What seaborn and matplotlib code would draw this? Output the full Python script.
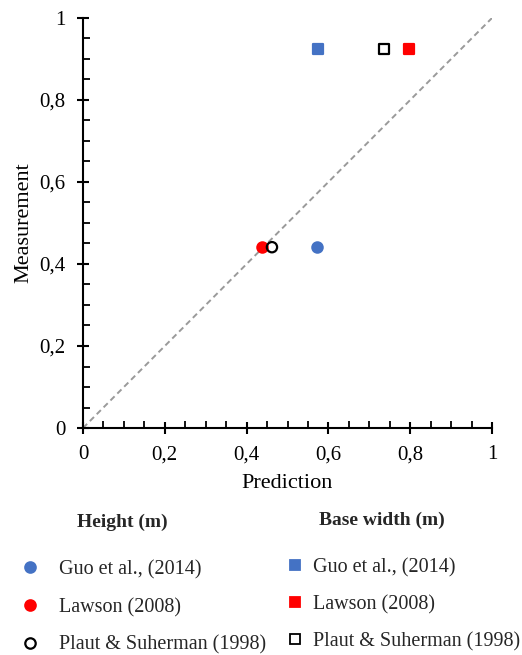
import matplotlib
matplotlib.use("Agg")
import matplotlib.pyplot as plt
import seaborn as sns
import pandas as pd
from matplotlib.ticker import MultipleLocator, FuncFormatter
from matplotlib.lines import Line2D

sources = ["Guo et al., (2014)", "Lawson (2008)", "Plaut & Suherman (1998)"]
height_pred = [0.573, 0.438, 0.462]
height_meas = [0.441, 0.441, 0.441]
base_pred = [0.575, 0.797, 0.736]
base_meas = [0.924, 0.924, 0.924]
colors = ["#4472C4", "#FF0000", "none"]
edges = ["#4472C4", "#FF0000", "black"]

sns.set_theme(style="ticks")
plt.rcParams["font.family"] = ["Liberation Serif", "DejaVu Serif"]

fig = plt.figure(figsize=(5.22, 6.55), dpi=100)
ax = fig.add_axes([83/522, 1-428/655, 409/522, 410/655])

ax.plot([0, 1], [0, 1], ls=(0, (3, 2)), color="#9A9A9A", lw=1.4, zorder=1)

hdf = pd.DataFrame({"pred": height_pred, "meas": height_meas, "src": sources})
bdf = pd.DataFrame({"pred": base_pred, "meas": base_meas, "src": sources})

h_handles = []
b_handles = []
for i, s in enumerate(sources):
    sns.scatterplot(data=hdf[hdf.src == s], x="pred", y="meas", ax=ax, marker="o",
                    s=55, color=colors[i], edgecolor=edges[i], linewidth=1.6, zorder=3)
    sns.scatterplot(data=bdf[bdf.src == s], x="pred", y="meas", ax=ax, marker="s",
                    s=55, color=colors[i], edgecolor=edges[i], linewidth=1.6, zorder=3)
    h_handles.append(Line2D([], [], ls="", marker="o", markersize=7.5,
                            markerfacecolor=colors[i], markeredgecolor=edges[i], markeredgewidth=1.6))
    b_handles.append(Line2D([], [], ls="", marker="s", markersize=7.5,
                            markerfacecolor=colors[i], markeredgecolor=edges[i], markeredgewidth=1.3))

ax.set_xlim(0, 1)
ax.set_ylim(0, 1)
ax.xaxis.set_major_locator(MultipleLocator(0.2))
ax.yaxis.set_major_locator(MultipleLocator(0.2))
ax.xaxis.set_minor_locator(MultipleLocator(0.05))
ax.yaxis.set_minor_locator(MultipleLocator(0.05))
fmt = FuncFormatter(lambda v, p: ("%g" % round(v, 2)).replace(".", ","))
ax.xaxis.set_major_formatter(fmt)
ax.yaxis.set_major_formatter(fmt)
ax.tick_params(which="major", direction="inout", length=9, width=1.5, labelsize=15,
               color="black", labelcolor="black", pad=8)
ax.tick_params(which="minor", direction="in", length=5, width=1.3, color="black")
for sp in ["top", "right"]:
    ax.spines[sp].set_visible(False)
for sp in ["left", "bottom"]:
    ax.spines[sp].set_color("black")
    ax.spines[sp].set_linewidth(1.5)
ax.set_xlabel("Prediction", fontsize=16, color="black", labelpad=7)
ax.set_ylabel("Measurement", fontsize=16, color="black", labelpad=4)

fig.text(122/522, 1-522/655, "Height (m)", ha="center", va="center",
         fontsize=14, fontweight="bold")
fig.text(382/522, 1-520/655, "Base width (m)", ha="center", va="center",
         fontsize=14, fontweight="bold")

fig.legend(h_handles, sources, loc="upper left", bbox_to_anchor=(18/522, 1-560/655),
           frameon=False, fontsize=14.5, labelspacing=0.92, handletextpad=0.85,
           handlelength=1.2, borderaxespad=0, borderpad=0)
fig.legend(b_handles, sources, loc="upper left", bbox_to_anchor=(283/522, 1-558/655),
           frameon=False, fontsize=14.5, labelspacing=0.88, handletextpad=0.3,
           handlelength=1.2, borderaxespad=0, borderpad=0)

fig.savefig("out.png", dpi=100)
